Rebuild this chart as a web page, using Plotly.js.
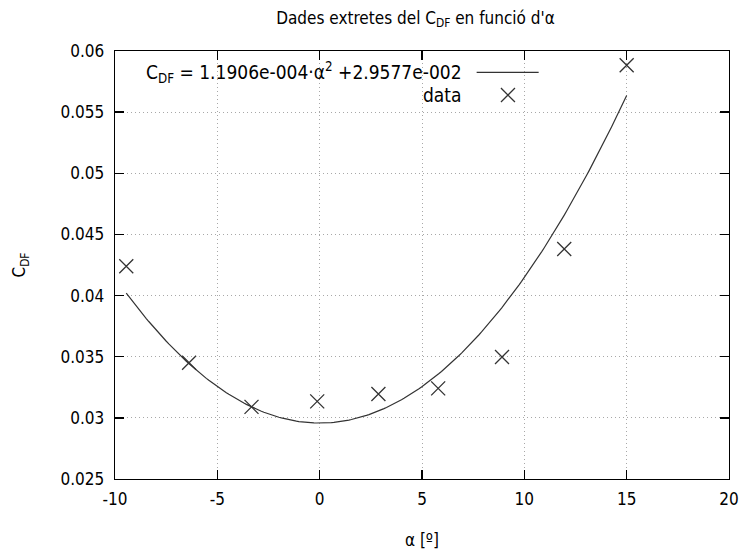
<!DOCTYPE html>
<html>
<head>
<meta charset="utf-8">
<script src="https://cdn.plot.ly/plotly-3.0.1.min.js"></script>
<style>html,body{margin:0;padding:0;background:#fff;}#chart{width:742px;height:551px;}</style>
</head>
<body>
<div id="chart"></div>
<script>
// Data
const alpha = [-9.45, -6.38, -3.33, -0.12, 2.87, 5.79, 8.91, 11.95, 15.0];
const cdf   = [0.0424, 0.0345, 0.0309, 0.03135, 0.03195, 0.03241, 0.03497, 0.04381, 0.05884];
// Fit coefficients shown in the legend: C_DF = a*α^2 + c
const fitA = 1.1906e-4;
const fitC = 2.9577e-2;
const xTickVals = [-10, -5, 0, 5, 10, 15, 20];
const xTickText = ['-10', '-5', '0', '5', '10', '15', '20'];
const yTickVals = [0.025, 0.03, 0.035, 0.04, 0.045, 0.05, 0.055, 0.06];
const yTickText = ['0.025', '0.03', '0.035', '0.04', '0.045', '0.05', '0.055', '0.06'];

const fitX = [], fitY = [];
const xMin = Math.min(...alpha), xMax = Math.max(...alpha);
for (let i = 0; i <= 200; i++) {
  const a = xMin + (xMax - xMin) * i / 200;
  fitX.push(a);
  fitY.push(fitA * a * a + fitC);
}

const FONT = 'DejaVu Sans Condensed, DejaVu Sans, sans-serif';
const traces = [
  {x: fitX, y: fitY, mode: 'lines', line: {color: '#333', width: 1.2}, showlegend: false, hoverinfo: 'skip'},
  {x: alpha, y: cdf, mode: 'markers', marker: {symbol: 'x-thin', size: 14, line: {color: '#333', width: 1.3}}, showlegend: false}
];

const axisCommon = {
  showline: true, linecolor: '#000', linewidth: 1.3, mirror: 'allticks',
  ticks: 'inside', ticklen: 9, tickwidth: 1.3, tickcolor: '#000',
  showgrid: true, gridcolor: '#a8a8a8', griddash: '1px,3px', gridwidth: 1,
  zeroline: false, tickfont: {family: FONT, size: 17, color: '#000'}
};

const layout = {
  width: 742, height: 551,
  margin: {l: 115, r: 13, t: 51, b: 72},
  paper_bgcolor: '#fff', plot_bgcolor: '#fff',
  showlegend: false,
  title: {text: 'Dades extretes del C<sub>DF</sub> en funció d\'α', font: {family: FONT, size: 17, color: '#000'}, x: 0.56, xanchor: 'center', y: 0.968, yanchor: 'middle'},
  xaxis: Object.assign({}, axisCommon, {range: [-10, 20], tickvals: xTickVals, ticktext: xTickText, ticklabelstandoff: 4,
    title: {text: 'α [º]', font: {family: FONT, size: 17, color: '#000'}, standoff: 26}}),
  yaxis: Object.assign({}, axisCommon, {range: [0.025, 0.06], tickvals: yTickVals, ticktext: yTickText, ticklabelstandoff: 6,
    title: {text: 'C<sub>DF</sub>', font: {family: FONT, size: 17, color: '#000'}, standoff: 30}}),
  annotations: [
    {xref: 'paper', yref: 'paper', x: 0.568, y: 0.95, xanchor: 'right', yanchor: 'middle', showarrow: false,
     text: 'C<sub>DF</sub> = 1.1906e-004·α<sup>2</sup> +2.9577e-002', font: {family: FONT, size: 19, color: '#000'}},
    {xref: 'paper', yref: 'paper', x: 0.568, y: 0.897, xanchor: 'right', yanchor: 'middle', showarrow: false,
     text: 'data', font: {family: FONT, size: 19, color: '#000'}}
  ],
  shapes: [
    {type: 'line', xref: 'paper', yref: 'paper', x0: 0.589, x1: 0.690, y0: 0.95, y1: 0.95, line: {color: '#333', width: 1.2}},
    {type: 'path', xref: 'paper', yref: 'paper', xsizemode: 'pixel', ysizemode: 'pixel', xanchor: 0.64, yanchor: 0.897,
     path: 'M-7,-7 L7,7 M-7,7 L7,-7', line: {color: '#333', width: 1.3}}
  ]
};

Plotly.newPlot('chart', traces, layout, {displayModeBar: false, staticPlot: true});
</script>
</body>
</html>
